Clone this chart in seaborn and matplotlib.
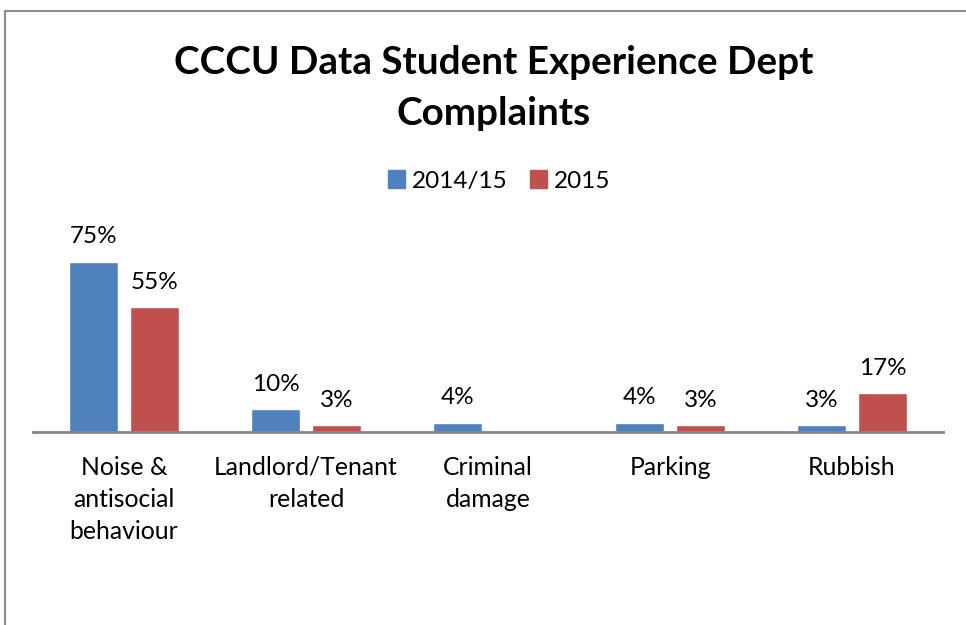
import matplotlib
matplotlib.use("Agg")
import matplotlib.pyplot as plt
import seaborn as sns
import pandas as pd
from matplotlib.lines import Line2D

# data
categories = ["Noise &\nantisocial\nbehaviour", "Landlord/Tenant\nrelated", "Criminal\ndamage",
              "Parking", "Rubbish"]
vals_1415 = [75, 10, 4, 4, 3]
vals_2015 = [55, 3, 0, 3, 17]
series = ["2014/15", "2015"]

df = pd.DataFrame({
    "cat": categories * 2,
    "val": vals_1415 + vals_2015,
    "year": [series[0]] * 5 + [series[1]] * 5,
})

sns.set_theme(style="white")
plt.rcParams['font.family'] = ['Lato', 'DejaVu Sans']
plt.rcParams['text.color'] = 'black'
plt.rcParams['xtick.color'] = 'black'

fig = plt.figure(figsize=(9.66, 6.25), dpi=100)
W, H = 966, 625
ax = fig.add_axes([33 / W, (H - 432) / H, 910 / W, 181.4 / H])

sns.barplot(data=df, x="cat", y="val", hue="year", order=categories,
            palette=["#4F81BD", "#C0504D"], width=0.67, gap=0.21,
            ax=ax, legend=False, saturation=1)

ax.set_ylim(0, 80)
ax.set_xlim(-0.5, 4.5)
ax.set_yticks([])
ax.set_xlabel("")
ax.set_ylabel("")
for s in ["top", "right", "left"]:
    ax.spines[s].set_visible(False)
ax.spines["bottom"].set_color("#868686")
ax.spines["bottom"].set_linewidth(2)
ax.tick_params(axis="x", length=0, pad=17, labelsize=17.8, labelcolor="black")
for lab in ax.get_xticklabels():
    lab.set_linespacing(1.48)
    lab.set_verticalalignment("top")

# data labels
for cont in ax.containers:
    for bar in cont:
        h = bar.get_height()
        if h > 0:
            ax.annotate(f"{h:.0f}%", (bar.get_x() + bar.get_width() / 2, h),
                        xytext=(0, 18), textcoords="offset points",
                        ha="center", va="center", fontsize=17.5, annotation_clip=False)

fig.text(494 / W, 1 - 88 / H, "CCCU Data Student Experience Dept\nComplaints",
         ha="center", va="center", fontsize=27.8, fontweight="bold", linespacing=1.58)

handles = [plt.Rectangle((0, 0), 1, 1, color=c) for c in ["#4F81BD", "#C0504D"]]
fig.legend(handles, series, loc="center", bbox_to_anchor=(499 / W, 1 - 181 / H),
           ncol=2, frameon=False, fontsize=17.5, handlelength=0.7, handleheight=0.7,
           handletextpad=0.3, columnspacing=0.9)

# outer chart frame
fig.add_artist(Line2D([5 / W, 5 / W], [0, 1 - 11 / H], color="#8c8c8c", lw=1.5))
fig.add_artist(Line2D([5 / W, 1], [1 - 11 / H, 1 - 11 / H], color="#8c8c8c", lw=1.5))

fig.savefig("out.png", dpi=100)
